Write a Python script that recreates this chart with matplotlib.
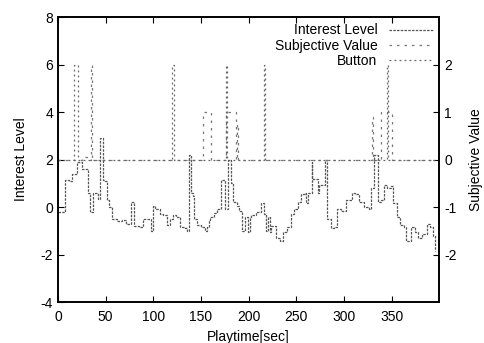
#!/usr/bin/env python3
import matplotlib
matplotlib.use('Agg')
import matplotlib.pyplot as plt

plt.rcParams['font.family'] = ['Liberation Sans', 'DejaVu Sans']
plt.rcParams['font.size'] = 10
plt.rcParams['axes.unicode_minus'] = False

# Interest Level (left axis), step curve
interest_t = [0, 7, 12, 15, 20, 25, 31, 34, 37, 42, 44, 47, 49, 51, 54, 57, 62, 67,
              71, 77, 80, 85, 89, 94, 98, 100, 102, 104, 107, 110, 114, 117, 121,
              124, 128, 133, 135, 137, 140, 142, 143, 146, 150, 154, 156, 158, 160,
              164, 167, 171, 175, 178, 182, 184, 188, 190, 193, 196, 199, 201, 203,
              208, 213, 216, 218, 220, 222, 224, 229, 233, 236, 240, 245, 248, 252,
              255, 259, 260, 262, 266, 267, 271, 273, 274, 278, 280, 282, 286, 290,
              293, 297, 302, 309, 312, 316, 321, 326, 328, 330, 332, 336, 339, 342,
              345, 349, 352, 356, 359, 363, 365, 370, 375, 378, 382, 387, 390, 393,
              396]
interest_v = [-0.2, 1.15, 1.1, 1.4, 1.9, 1.6, 0.6, -0.2, 0.6, 0.35, 2.9, 1.15, 1.1,
              0.3, 0.0, -0.5, -0.6, -0.55, -0.7, 0.2, -0.8, -0.85, -0.5, -0.5, -1.0,
              0.05, -0.1, -0.1, -0.3, -0.35, -0.75, -0.5, -0.35, -0.4, -0.85, -0.9,
              -1.0, 2.2, 0.6, 0.45, -0.5, -0.75, -0.85, -1.0, -0.85, -0.6, -0.4,
              -0.25, -0.1, 1.15, -0.1, 2.0, 1.0, 0.2, 0.05, -0.15, -1.0, -0.4, -1.05,
              -0.4, -0.35, -0.2, 0.15, -0.3, -1.0, -0.4, -1.05, -0.8, -1.3, -1.45,
              -1.05, -0.85, -0.3, -0.1, 0.2, 0.55, 0.6, 0.15, 0.6, 1.9, 1.2, 1.2,
              0.6, 0.95, 0.95, 2.0, -0.5, -0.9, -0.85, -0.1, -0.15, 0.3, 0.6, 0.55,
              0.2, 0.0, -0.1, 0.8, 0.8, 2.2, 0.2, 0.3, 0.95, 0.8, 0.9, 0.15, -0.4,
              -0.75, -0.85, -1.45, -0.85, -1.05, -1.3, -1.15, -0.7, -0.85, -1.2,
              -1.85]

# Subjective Value (right axis)
subj_t = [0, 25, 31, 35, 36, 152, 161, 176, 187, 188, 189, 329, 330, 339, 350, 396]
subj_v = [0, 0.05, 0, 2, 0, 1, 0, 1, 0, 0.75, 0, 0.9, 0, 1, 0, 0]

# Button (right axis)
button_t = [0, 17, 21, 120, 122, 176, 177, 216, 217, 345, 346, 396]
button_v = [0, 2, 0, 2, 0, 2, 0, 2, 0, 2, 0, 0]


def main():
    fig = plt.figure(figsize=(4.85, 3.43), dpi=100)
    ax = fig.add_axes([0.1196, 0.1195, 0.7860, 0.8305])
    ax2 = ax.twinx()

    l1, = ax.plot(interest_t, interest_v, drawstyle='steps-post', color='#555555',
                  lw=0.9, linestyle=(0, (2, 1)), label='Interest Level')
    l2, = ax2.plot(subj_t, subj_v, drawstyle='steps-post', color='#777777',
                   lw=0.9, linestyle=(0, (2, 4)), label='Subjective Value')
    l3, = ax2.plot(button_t, button_v, drawstyle='steps-post', color='#666666',
                   lw=0.9, linestyle=(0, (1.5, 2.5)), label='Button')

    ax.set_xlim(0, 400)
    ax.set_ylim(-4, 8)
    ax2.set_ylim(-3, 3)
    ax.set_xticks(range(0, 351, 50))
    ax.set_yticks(range(-4, 9, 2))
    ax2.set_yticks([-2, -1, 0, 1, 2])

    ax.tick_params(axis='x', direction='in', top=True, length=4, pad=6)
    ax.tick_params(axis='y', direction='in', length=4)
    ax2.tick_params(axis='y', direction='in', length=4)

    for a in (ax, ax2):
        for s in a.spines.values():
            s.set_linewidth(1.2)

    ax.set_xlabel('Playtime[sec]', labelpad=4)
    ax.set_ylabel('Interest Level', labelpad=9)
    ax2.set_ylabel('Subjective Value', labelpad=9)

    ax2.legend(handles=[l1, l2, l3], loc='upper right', frameon=False,
               markerfirst=False, handlelength=3.2, handletextpad=0.8,
               labelspacing=0.1, borderaxespad=0.05)

    plt.savefig('out.png', dpi=100)


if __name__ == '__main__':
    main()
